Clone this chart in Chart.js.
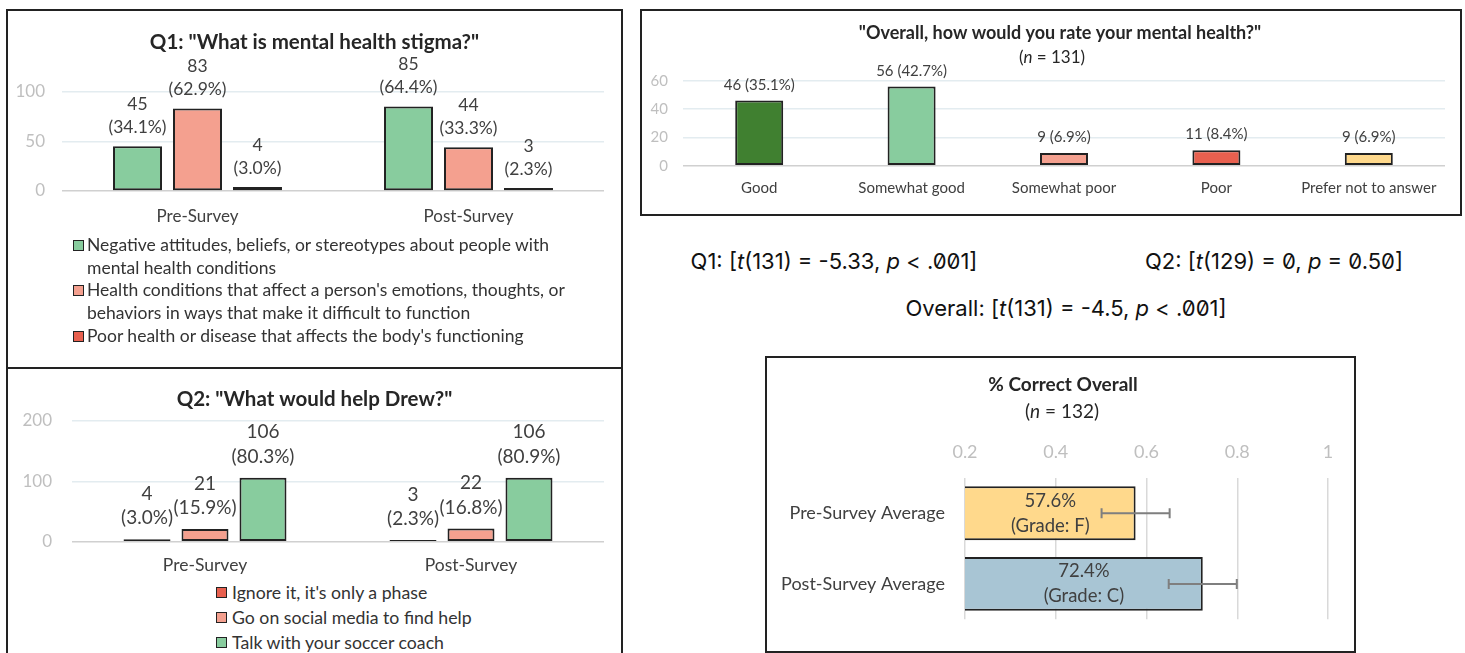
<!DOCTYPE html>
<html>
<head>
<meta charset="utf-8">
<script src="https://cdn.jsdelivr.net/npm/chart.js@4.4.1/dist/chart.umd.min.js"></script>
<style>
  body { margin: 0; background: #fff; width: 1465px; height: 653px; position: relative; overflow: hidden; font-family: Lato, sans-serif; }
  .panel { position: absolute; border: 2px solid #222; box-sizing: border-box; }
  canvas { position: absolute; }
  .legend { position: absolute; color: #333; white-space: nowrap; }
  .legend .item { position: relative; }
  .legend .sw { position: absolute; left: 0; width: 11px; height: 11px; box-sizing: border-box; border: 1.5px solid #222; }
  #q1Legend { left: 73px; top: 234px; font-size: 17.5px; line-height: 22.7px; }
  #q1Legend .item { padding-left: 14px; }
  #q1Legend .sw { top: 6px; }
  #q2Legend { left: 216px; top: 580px; font-size: 17.7px; line-height: 25px; }
  #q2Legend .item { padding-left: 16px; }
  #q2Legend .sw { top: 7px; }
  .note { position: absolute; white-space: nowrap; transform: translate(-50%, -50%); }
  .stat { font-family: Inter, sans-serif; font-size: 22px; color: #111; font-feature-settings: "zero" 1; }
  .sub { color: #262626; }
</style>
</head>
<body>
<div class="panel" style="left:6px;top:9px;width:617px;height:360px"></div>
<div class="panel" style="left:6px;top:367px;width:617px;height:300px"></div>
<div class="panel" style="left:640px;top:9px;width:822px;height:207px"></div>
<div class="panel" style="left:765px;top:356px;width:591px;height:297px"></div>

<canvas id="q1Chart" width="611" height="225" style="left:9px;top:12px"></canvas>
<div class="legend" id="q1Legend"></div>
<canvas id="q2Chart" width="611" height="210" style="left:9px;top:370px"></canvas>
<div class="legend" id="q2Legend"></div>
<canvas id="healthChart" width="834" height="201" style="left:643px;top:12px"></canvas>
<div class="note sub" style="left:1052px;top:56px;font-size:17px">(<i>n</i> = 131)</div>
<canvas id="scoreChart" width="590" height="291" style="left:768px;top:359px"></canvas>
<div class="note sub" style="left:1062px;top:410px;font-size:19px">(<i>n</i> = 132)</div>

<div class="note stat" style="left:834px;top:261px">Q1: [<i>t</i>(131) = -5.33, <i>p</i> &lt; .001]</div>
<div class="note stat" style="left:1274px;top:261px">Q2: [<i>t</i>(129) = 0, <i>p</i> = 0.50]</div>
<div class="note stat" style="left:1066px;top:308px">Overall: [<i>t</i>(131) = -4.5, <i>p</i> &lt; .001]</div>

<script>
// Q1 data
const q1Groups = ['Pre-Survey', 'Post-Survey'];
const q1Answers = [
    ['Negative attitudes, beliefs, or stereotypes about people with', 'mental health conditions'],
    ["Health conditions that affect a person's emotions, thoughts, or", 'behaviors in ways that make it difficult to function'],
    ["Poor health or disease that affects the body's functioning"]
];
const q1Counts = [[45, 85], [83, 44], [4, 3]];
const q1Pct = [['34.1', '64.4'], ['62.9', '33.3'], ['3.0', '2.3']];

// Q2 data
const q2Groups = ['Pre-Survey', 'Post-Survey'];
const q2Answers = ["Ignore it, it's only a phase", 'Go on social media to find help', 'Talk with your soccer coach'];
const q2Counts = [[4, 3], [21, 22], [106, 106]];
const q2Pct = [['3.0', '2.3'], ['15.9', '16.8'], ['80.3', '80.9']];

// Mental health rating data
const healthRatings = ['Good', 'Somewhat good', 'Somewhat poor', 'Poor', 'Prefer not to answer'];
const healthCounts = [46, 56, 9, 11, 9];
const healthPct = ['35.1', '42.7', '6.9', '8.4', '6.9'];

// % correct data
const scoreGroups = ['Pre-Survey Average', 'Post-Survey Average'];
const scoreMeans = [0.576, 0.724];
const scoreErrors = [0.075, 0.075];
const scoreGrades = ['F', 'C'];

// colours
const GREEN = '#88cc9e', SALMON = '#f4a08f', RED = '#e8604f', DARKGREEN = '#408030', YELLOW = '#ffd98c', BLUEGRAY = '#a8c5d4';
const EDGE = '#222';
const TICK = '#bfbfbf';
const TEXT = '#404040';

Chart.defaults.font.family = 'Lato';
Chart.defaults.color = TEXT;

const gridColor = c => c.tick.value === 0 ? '#d0d0d0' : '#e3ecf0';

// text above each bar, one or two lines
function topLabels(font, offset, lineHeight, textFor) {
    return {
        id: 'topLabels',
        afterDatasetsDraw(chart) {
            const ctx = chart.ctx;
            ctx.save();
            ctx.font = font;
            ctx.fillStyle = TEXT;
            ctx.textAlign = 'center';
            ctx.textBaseline = 'middle';
            chart.data.datasets.forEach((ds, i) => {
                chart.getDatasetMeta(i).data.forEach((bar, j) => {
                    const lines = textFor(i, j);
                    lines.forEach((line, k) => {
                        ctx.fillText(line, bar.x, bar.y - offset - (lines.length - 1 - k) * lineHeight);
                    });
                });
            });
            ctx.restore();
        }
    };
}

function fixedSize(prop, size) {
    return scale => { scale[prop] = size; };
}

// empty axis on the right, keeps the title centred like the original
function spacer(width) {
    return {
        type: 'linear', position: 'right', display: true,
        ticks: { display: false }, grid: { display: false }, border: { display: false },
        afterFit: fixedSize('width', width)
    };
}

function groupedChart(id, groups, answers, counts, colors, opts) {
    return new Chart(document.getElementById(id), {
        type: 'bar',
        data: {
            labels: groups,
            datasets: counts.map((vals, i) => ({
                label: [].concat(answers[i]).join(' '),
                data: vals,
                backgroundColor: colors[i],
                borderColor: EDGE,
                borderWidth: 2,
                borderSkipped: false,
                categoryPercentage: opts.cp,
                barPercentage: opts.bp
            }))
        },
        options: {
            responsive: false,
            animation: false,
            layout: { padding: 0 },
            plugins: {
                legend: { display: false },
                tooltip: { enabled: false },
                title: {
                    display: true, text: opts.title, color: '#262626',
                    font: { size: opts.titleSize, weight: 'bold' },
                    padding: opts.titlePad
                }
            },
            scales: {
                x: {
                    grid: { display: false, drawTicks: false }, border: { display: false },
                    ticks: { font: { size: opts.xFont }, color: TEXT, padding: opts.xPad },
                    afterFit: fixedSize('height', opts.xHeight)
                },
                y: {
                    min: 0, max: opts.yMax,
                    ticks: { stepSize: opts.yMax / 2, font: { size: 17 }, color: TICK, padding: opts.yPad },
                    grid: { color: gridColor, drawTicks: false, lineWidth: 1.5 },
                    border: { display: false },
                    afterFit: fixedSize('width', opts.yWidth)
                },
                pad: spacer(16)
            }
        },
        plugins: [topLabels(opts.labelFont, opts.labelOffset, opts.labelLine,
            (i, j) => [String(counts[i][j]), '(' + opts.pct[i][j] + '%)'])]
    });
}

function htmlLegend(el, chart, answers) {
    el.innerHTML = chart.data.datasets.map((ds, i) =>
        '<div class="item"><span class="sw" style="background:' + ds.backgroundColor + '"></span>' +
        [].concat(answers[i]).join('<br>') + '</div>').join('');
}

// Q1 chart
const q1Chart = groupedChart('q1Chart', q1Groups, q1Answers, q1Counts, [GREEN, SALMON, RED], {
    title: 'Q1: "What is mental health stigma?"', titleSize: 20.5,
    titlePad: { top: 17.7, bottom: 37.4 },
    yMax: 100, yWidth: 53, yPad: 17, xHeight: 46, xPad: 15.8, xFont: 17,
    cp: 0.664, bp: 0.817,
    labelFont: '17.5px Lato', labelOffset: 19, labelLine: 23, pct: q1Pct
});
htmlLegend(document.getElementById('q1Legend'), q1Chart, q1Answers);

// Q2 chart
const q2Chart = groupedChart('q2Chart', q2Groups, q2Answers, q2Counts, [RED, SALMON, GREEN], {
    title: 'Q2: "What would help Drew?"', titleSize: 20.5,
    titlePad: { top: 16.7, bottom: 9.7 },
    yMax: 200, yWidth: 63, yPad: 20, xHeight: 38.3, xPad: 12.8, xFont: 17.5,
    cp: 0.654, bp: 0.81,
    labelFont: '19px Lato', labelOffset: 21, labelLine: 24.5, pct: q2Pct
});
htmlLegend(document.getElementById('q2Legend'), q2Chart, q2Answers);

// Overall mental health rating
new Chart(document.getElementById('healthChart'), {
    type: 'bar',
    data: {
        labels: healthRatings,
        datasets: [{
            label: 'Responses',
            data: healthCounts,
            backgroundColor: [DARKGREEN, GREEN, SALMON, RED, YELLOW],
            borderColor: EDGE,
            borderWidth: 2,
            borderSkipped: false,
            categoryPercentage: 1,
            barPercentage: 0.315
        }]
    },
    options: {
        responsive: false,
        animation: false,
        layout: { padding: 0 },
        plugins: {
            legend: { display: false },
            tooltip: { enabled: false },
            title: {
                display: true, text: '"Overall, how would you rate your mental health?"', color: '#262626',
                font: { size: 18, weight: 'bold' },
                padding: { top: 10.2, bottom: 37 }
            }
        },
        scales: {
            x: {
                grid: { display: false, drawTicks: false }, border: { display: false },
                ticks: { font: { size: 15 }, color: TEXT, padding: 13.3 },
                afterFit: fixedSize('height', 47.3)
            },
            y: {
                min: 0, max: 60,
                ticks: { stepSize: 20, font: { size: 15 }, color: TICK, padding: 15 },
                grid: { color: gridColor, drawTicks: false, lineWidth: 1.5 },
                border: { display: false },
                afterFit: fixedSize('width', 40)
            },
            pad: spacer(32)
        }
    },
    plugins: [topLabels('15px Lato', 15.7, 0, (i, j) => [healthCounts[j] + ' (' + healthPct[j] + '%)'])]
});

// error bars and in-bar text for the % correct chart
const scoreExtras = {
    id: 'scoreExtras',
    afterDatasetsDraw(chart) {
        const ctx = chart.ctx;
        const xs = chart.scales.x;
        const bars = chart.getDatasetMeta(0).data;
        ctx.save();
        ctx.font = '18.5px Lato';
        ctx.fillStyle = TEXT;
        ctx.textAlign = 'center';
        ctx.textBaseline = 'middle';
        bars.forEach((bar, j) => {
            const cx = (bar.x + xs.left) / 2;
            ctx.fillText((scoreMeans[j] * 100).toFixed(1) + '%', cx, bar.y - 12.5);
            ctx.fillText('(Grade: ' + scoreGrades[j] + ')', cx, bar.y + 12.5);
        });
        ctx.strokeStyle = '#7f7f7f';
        ctx.lineWidth = 2;
        bars.forEach((bar, j) => {
            const x0 = xs.getPixelForValue(scoreMeans[j] - scoreErrors[j]);
            const x1 = xs.getPixelForValue(scoreMeans[j] + scoreErrors[j]);
            ctx.beginPath();
            ctx.moveTo(x0, bar.y); ctx.lineTo(x1, bar.y);
            ctx.moveTo(x0, bar.y - 5); ctx.lineTo(x0, bar.y + 5);
            ctx.moveTo(x1, bar.y - 5); ctx.lineTo(x1, bar.y + 5);
            ctx.stroke();
        });
        ctx.restore();
    }
};

new Chart(document.getElementById('scoreChart'), {
    type: 'bar',
    data: {
        labels: scoreGroups,
        datasets: [{
            label: '% Correct',
            data: scoreMeans,
            backgroundColor: [YELLOW, BLUEGRAY],
            borderColor: EDGE,
            borderWidth: 2,
            categoryPercentage: 1,
            barPercentage: 0.763
        }]
    },
    options: {
        indexAxis: 'y',
        responsive: false,
        animation: false,
        layout: { padding: { left: 0, right: 0, top: 0, bottom: 20 } },
        plugins: {
            legend: { display: false },
            tooltip: { enabled: false },
            title: {
                display: true, text: '% Correct Overall', color: '#262626',
                font: { size: 19, weight: 'bold' },
                padding: { top: 14.6, bottom: 41.6 }
            }
        },
        scales: {
            x: {
                position: 'top', min: 0.2, max: 1,
                ticks: {
                    stepSize: 0.2, font: { size: 18 }, color: TICK, padding: 15.5,
                    callback: v => String(Math.round(v * 10) / 10)
                },
                grid: { color: '#d9d9d9', drawTicks: false, lineWidth: 1.5 },
                border: { display: false },
                afterFit: fixedSize('height', 40)
            },
            y: {
                grid: { display: false, drawTicks: false }, border: { display: false },
                ticks: { font: { size: 18 }, color: TEXT, padding: 20 },
                afterFit: fixedSize('width', 197)
            },
            pad: spacer(30)
        }
    },
    plugins: [scoreExtras]
});
</script>
</body>
</html>
